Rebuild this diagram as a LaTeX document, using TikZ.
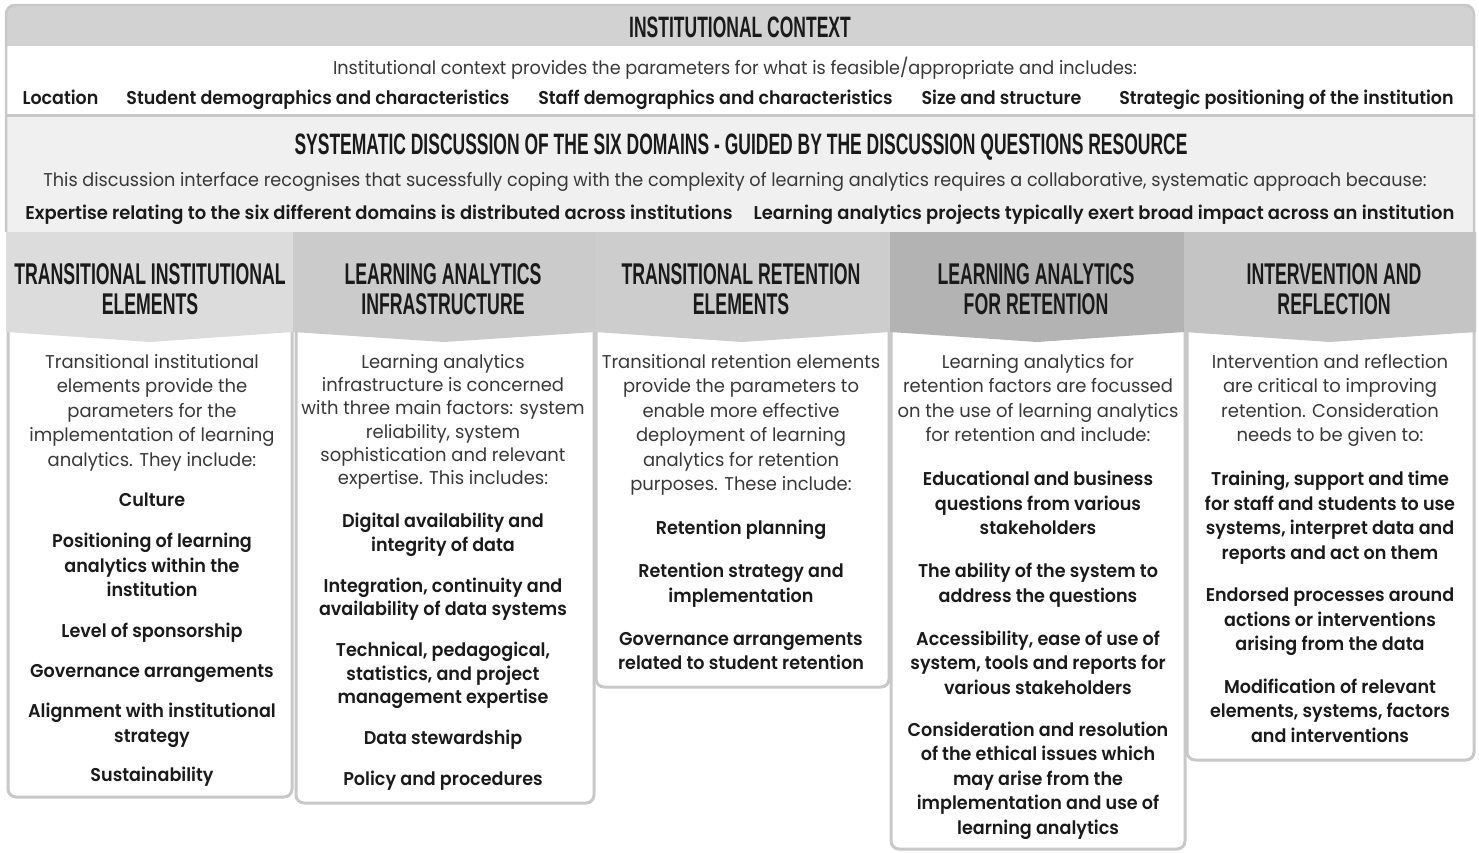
\documentclass[tikz,border=0pt]{standalone}
\usepackage{fontspec}
\setmainfont{Poppins}
\newfontfamily\hdfont{Liberation Sans}[FakeStretch=0.59]
\newfontfamily\bigfont{Liberation Sans}[FakeStretch=0.593]
\IfFontExistsTF{Poppins SemiBold}
  {\newcommand\mybold{Poppins SemiBold}}
  {\IfFontExistsTF{Poppins Medium}{\newcommand\mybold{Poppins Medium}}{\newcommand\mybold{Poppins Bold}}}
\newfontfamily\bodyfont{Poppins}[UprightFeatures={FakeStretch=0.97},BoldFont=\mybold,BoldFeatures={FakeStretch=0.95}]
\newfontfamily\bandfont{Poppins}[UprightFeatures={FakeStretch=0.955},BoldFont=\mybold,BoldFeatures={FakeStretch=0.945}]
\newfontfamily\discfont{Poppins}[UprightFeatures={FakeStretch=0.97},BoldFont=\mybold,BoldFeatures={FakeStretch=0.97}]
\definecolor{hdrgray}{HTML}{D2D2D2}
\definecolor{framegray}{HTML}{C8C8C8}
\definecolor{bandgray}{HTML}{F0F0F0}
\definecolor{cA}{HTML}{DCDCDC}
\definecolor{cB}{HTML}{CBCBCB}
\definecolor{cC}{HTML}{CDCDCD}
\definecolor{cD}{HTML}{B3B3B3}
\definecolor{cE}{HTML}{C4C4C4}
\definecolor{introgray}{HTML}{383838}
\definecolor{inkblack}{HTML}{1A1A1A}
\tikzset{
  coltitle/.style={font=\hdfont\bfseries\fontsize{30}{30}\selectfont, text=inkblack, align=center, inner sep=0pt},
  bigtitle/.style={font=\bigfont\bfseries\fontsize{29.5}{29.5}\selectfont, text=inkblack, inner sep=0pt, anchor=base},
  introtext/.style={font=\bodyfont\fontsize{18.5}{24.5}\selectfont, text=introgray, align=center, inner sep=0pt, anchor=north},
  itemtext/.style={font=\bodyfont\bfseries\fontsize{18.5}{24.5}\selectfont, text=inkblack, align=center, inner sep=0pt, anchor=north},
  bandtext/.style={font=\bandfont\fontsize{18.5}{22}\selectfont, text=introgray, inner sep=0pt, anchor=base},
  banditem/.style={font=\bandfont\bfseries\fontsize{18.5}{22}\selectfont, text=inkblack, inner sep=0pt, anchor=base},
  discitem/.style={font=\discfont\bfseries\fontsize{18.5}{22}\selectfont, text=inkblack, inner sep=0pt, anchor=base},
  colbox/.style={draw=framegray, line width=3pt, fill=white, rounded corners=8pt},
}
\begin{document}
\begin{tikzpicture}[x=1pt,y=-1pt]
\useasboundingbox (0,0) rectangle (1479,852);
\fill[white] (0,0) rectangle (1479,852);
% top frame
\fill[bandgray] (6,116) rectangle (1474,232);
\fill[hdrgray] (6,46) [rounded corners=9pt] -- (6,5) -- (1474,5) [sharp corners] -- (1474,46) -- cycle;
\fill[white] (8,46) rectangle (1472,114);
\draw[framegray, line width=3pt] (6,115) -- (1474,115);
\draw[framegray, line width=2.5pt, rounded corners=9pt] (6,232) -- (6,5) -- (1474,5) -- (1474,232);
% columns: boxes
\draw[colbox] (8,300) rectangle (292,797);
\draw[colbox] (296,300) rectangle (594,803);
\draw[colbox] (596,300) rectangle (889,687);
\draw[colbox] (891,300) rectangle (1185,849);
\draw[colbox] (1187,300) rectangle (1474,760);
% column headers
\fill[cA] (6,232) -- (293,232) -- (293,332) -- (150,342) -- (6,332) -- cycle;
\fill[cB] (293,232) -- (595,232) -- (595,332) -- (444,342) -- (293,332) -- cycle;
\fill[cC] (595,232) -- (890,232) -- (890,332) -- (742,342) -- (595,332) -- cycle;
\fill[cD] (890,232) -- (1184,232) -- (1184,332) -- (1037,342) -- (890,332) -- cycle;
\fill[cE] (1184,232) -- (1476,232) -- (1476,332) -- (1330,342) -- (1184,332) -- cycle;
% titles
\node[bigtitle] (ctx) at (740,37.5) {INSTITUTIONAL CONTEXT};
\node[bandtext] (ctxline) at (735,74) {Institutional context provides the parameters for what is feasible/appropriate and includes:};
\node[banditem] (loc) at (60.5,104) {Location};
\node[banditem] (stud) at (318,104) {Student demographics and characteristics};
\node[banditem] (staff) at (715.5,104) {Staff demographics and characteristics};
\node[banditem] (size) at (1001.5,104) {Size and structure};
\node[banditem] (strat) at (1286.5,104) {Strategic positioning of the institution};
\node[bigtitle] (sys) at (741,154.5) {SYSTEMATIC DISCUSSION OF THE SIX DOMAINS - GUIDED BY THE DISCUSSION QUESTIONS RESOURCE};
\node[bandtext] (sysline) at (735,186.5) {This discussion interface recognises that sucessfully coping with the complexity of learning analytics requires a collaborative, systematic approach because:};
\node[discitem] (exp) at (379,219.5) {Expertise relating to the six different domains is distributed across institutions};
\node[discitem] (proj) at (1104,219.5) {Learning analytics projects typically exert broad impact across an institution};
% column titles
\node[coltitle] (t1) at (150,289) {TRANSITIONAL INSTITUTIONAL\\ELEMENTS};
\node[coltitle] (t2) at (443,289) {LEARNING ANALYTICS\\INFRASTRUCTURE};
\node[coltitle] (t3) at (741,289) {TRANSITIONAL RETENTION\\ELEMENTS};
\node[coltitle] (t4) at (1036,289) {LEARNING ANALYTICS\\FOR RETENTION};
\node[coltitle] (t5) at (1334,289) {INTERVENTION AND\\REFLECTION};
% column 1
\node[introtext] (i1) at (152,354) {Transitional institutional\\elements provide the\\parameters for the\\implementation of learning\\analytics. They include:};
\node[itemtext] (l1) at (152,493) {Culture\\[16.5pt]Positioning of learning\\analytics within the\\institution\\[16pt]Level of sponsorship\\[16pt]Governance arrangements\\[15.5pt]Alignment with institutional\\strategy\\[15pt]Sustainability};
% column 2
\node[introtext, font=\bodyfont\fontsize{18.5}{23.3}\selectfont] (i2) at (443,354) {Learning analytics\\infrastructure is concerned\\with three main factors: system\\reliability, system\\sophistication and relevant\\expertise. This includes:};
\node[itemtext, font=\bodyfont\bfseries\fontsize{18.5}{23.5}\selectfont] (l2) at (443,513) {Digital availability and\\integrity of data\\[17.5pt]Integration, continuity  and\\availability of data  systems\\[17.5pt]Technical, pedagogical,\\statistics, and project\\management expertise\\[17.5pt]Data stewardship\\[17.5pt]Policy and procedures};
% column 3
\node[introtext] (i3) at (741,354) {Transitional retention elements\\provide the parameters to\\enable more effective\\deployment of learning\\analytics for retention\\purposes. These include:};
\node[itemtext] (l3) at (741,520) {Retention planning\\[18.5pt]Retention strategy and\\implementation\\[18.5pt]Governance arrangements\\related to student retention};
% column 4
\node[introtext] (i4) at (1038,354) {Learning analytics for\\retention factors are focussed\\on the use of learning analytics\\for retention and include:};
\node[itemtext] (l4) at (1038,471) {Educational and business\\questions from various\\stakeholders\\[18.5pt]The ability of the system to\\address the questions\\[18.5pt]Accessibility, ease of use of\\system, tools and reports for\\various stakeholders\\[17.5pt]Consideration and resolution\\of the ethical issues which\\may arise from the\\implementation and use of\\learning analytics};
% column 5
\node[introtext] (i5) at (1330,354) {Intervention and reflection\\are critical to improving\\retention. Consideration\\needs to be given to:};
\node[itemtext] (l5) at (1330,471) {Training, support and time\\for staff and students to use\\systems, interpret data and\\reports and act on them\\[18pt]Endorsed processes around\\actions or interventions\\arising from the data\\[18pt]Modification of relevant\\elements, systems, factors\\and interventions};
\end{tikzpicture}
\end{document}
